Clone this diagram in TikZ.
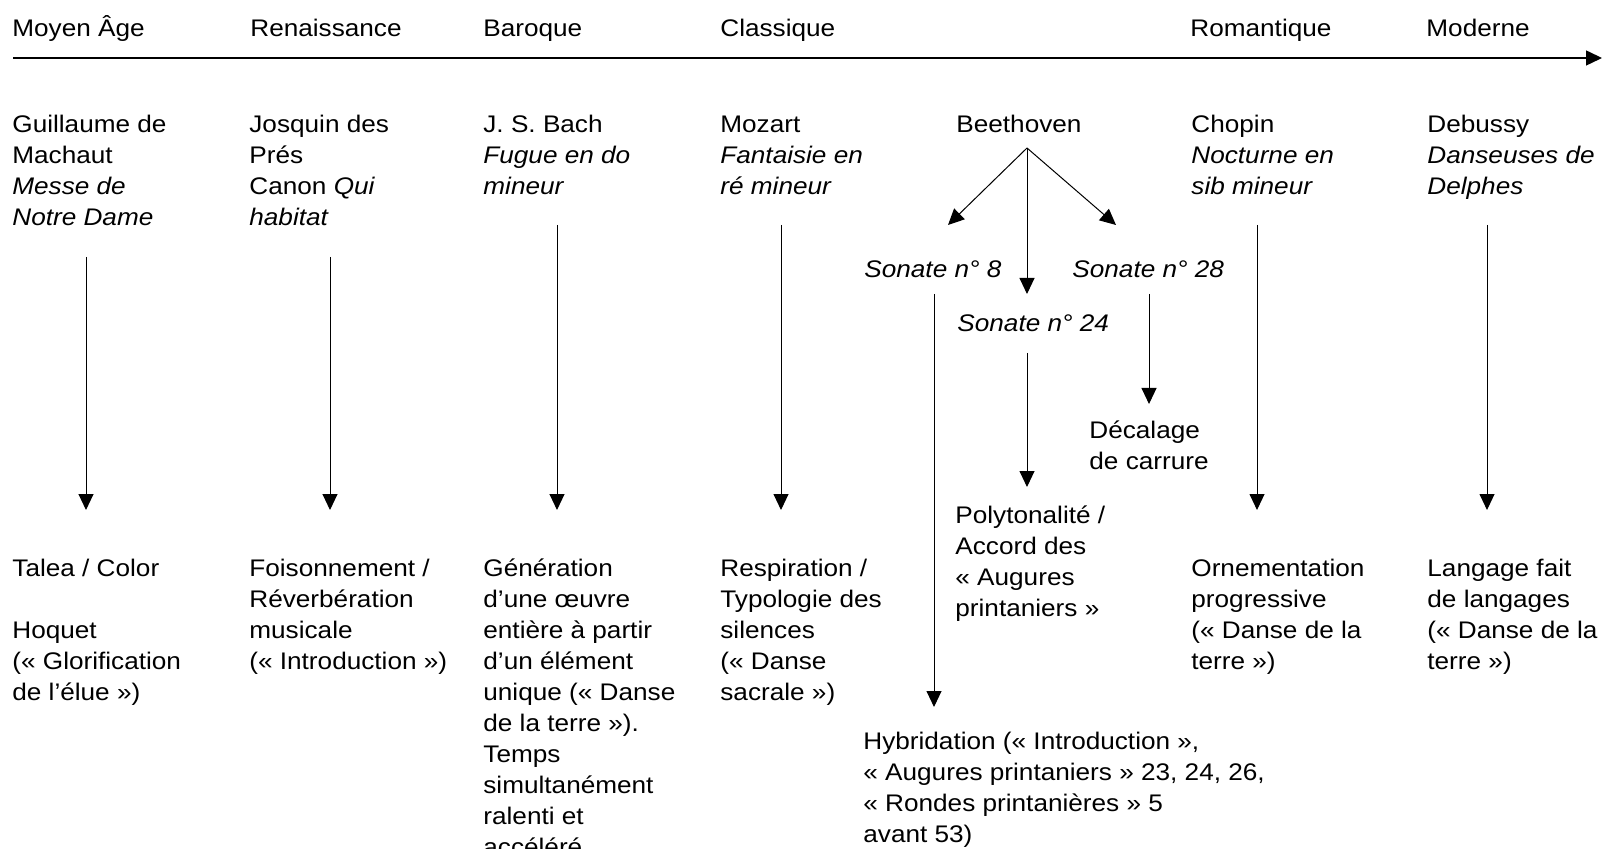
\documentclass[tikz,border=0pt]{standalone}
\usepackage{fontspec}
\setmainfont[FakeStretch=1.09]{Liberation Sans}
\usetikzlibrary{arrows.meta}
\begin{document}
% nodes are anchored at the baseline of their LAST line
\begin{tikzpicture}[x=0.5pt,y=-0.5pt,
  txt/.style={anchor=base west,inner sep=0pt,align=left,font=\fontsize{12pt}{15.5pt}\selectfont},
  arr/.style={-{Triangle[length=8pt,width=7.5pt]},line width=0.5pt},
  axis/.style={-{Triangle[length=8pt,width=7.5pt]},line width=0.7pt}]
\useasboundingbox (0,0) rectangle (1604,849);
\clip (0,0) rectangle (1604,849);
% axis
\coordinate (ax0) at (13,58);
\coordinate (ax1) at (1602,58);
\draw[axis] (ax0) -- (ax1);
% periods
\node[txt] (h1) at (12,37) {Moyen Âge};
\node[txt] (h2) at (250,37) {Renaissance};
\node[txt] (h3) at (483,37) {Baroque};
\node[txt] (h4) at (720,37) {Classique};
\node[txt] (h5) at (1190,37) {Romantique};
\node[txt] (h6) at (1426,37) {Moderne};
% composers
\node[txt] (c1) at (12,226) {Guillaume de\\Machaut\\\textit{Messe de}\\\textit{Notre Dame}};
\node[txt] (c2) at (249,226) {Josquin des\\Prés\\Canon \textit{Qui}\\\textit{habitat}};
\node[txt] (c3) at (483,195) {J. S. Bach\\\textit{Fugue en do}\\\textit{mineur}};
\node[txt] (c4) at (720,195) {Mozart\\\textit{Fantaisie en}\\\textit{ré mineur}};
\node[txt] (c5) at (956,133) {Beethoven};
\node[txt] (c6) at (1191,195) {Chopin\\\textit{Nocturne en}\\\textit{sib mineur}};
\node[txt] (c7) at (1427,195) {Debussy\\\textit{Danseuses de}\\\textit{Delphes}};
% sonatas
\node[txt] (s8) at (864,278) {\textit{Sonate n° 8}};
\node[txt] (s28) at (1072,278) {\textit{Sonate n° 28}};
\node[txt] (s24) at (957,332) {\textit{Sonate n° 24}};
\node[txt] (dc) at (1089,469) {Décalage\\de carrure};
% results
\node[txt] (r1) at (12,700) {Talea / Color\\[15.5pt]Hoquet\\(« Glorification\\de l’élue »)};
\node[txt] (r2) at (249,669) {Foisonnement /\\Réverbération\\musicale\\(« Introduction »)};
\node[txt] (r3) at (483,855) {Génération\\d’une œuvre\\entière à partir\\d’un élément\\unique (« Danse\\de la terre »).\\Temps\\simultanément\\ralenti et\\accéléré};
\node[txt] (r4) at (720,700) {Respiration /\\Typologie des\\silences\\(« Danse\\sacrale »)};
\node[txt] (r5) at (955,616) {Polytonalité /\\Accord des\\« Augures\\printaniers »};
\node[txt] (r6) at (1191,669) {Ornementation\\progressive\\(« Danse de la\\terre »)};
\node[txt] (r7) at (1427,669) {Langage fait\\de langages\\(« Danse de la\\terre »)};
\node[txt] (r8) at (863,842) {Hybridation (« Introduction »,\\« Augures printaniers » 23, 24, 26,\\« Rondes printanières » 5\\avant 53)};
% arrow endpoints
\coordinate (a1s) at (86,257);   \coordinate (a1e) at (86,510);
\coordinate (a2s) at (330,257);  \coordinate (a2e) at (330,510);
\coordinate (a3s) at (557,225);  \coordinate (a3e) at (557,510);
\coordinate (a4s) at (781,225);  \coordinate (a4e) at (781,510);
\coordinate (a6s) at (1257,225); \coordinate (a6e) at (1257,510);
\coordinate (a7s) at (1487,225); \coordinate (a7e) at (1487,510);
\coordinate (b0) at (1027,148);
\coordinate (bL) at (948,225);
\coordinate (bM) at (1027,294);
\coordinate (bR) at (1116,225);
\coordinate (s8s) at (934,294);   \coordinate (s8e) at (934,707);
\coordinate (s24s) at (1027,353); \coordinate (s24e) at (1027,487);
\coordinate (s28s) at (1149,294); \coordinate (s28e) at (1149,404);
% arrows
\draw[arr] (a1s) -- (a1e);
\draw[arr] (a2s) -- (a2e);
\draw[arr] (a3s) -- (a3e);
\draw[arr] (a4s) -- (a4e);
\draw[arr] (a6s) -- (a6e);
\draw[arr] (a7s) -- (a7e);
\draw[arr] (b0) -- (bL);
\draw[arr] (b0) -- (bM);
\draw[arr] (b0) -- (bR);
\draw[arr] (s8s) -- (s8e);
\draw[arr] (s24s) -- (s24e);
\draw[arr] (s28s) -- (s28e);
\end{tikzpicture}
\end{document}
